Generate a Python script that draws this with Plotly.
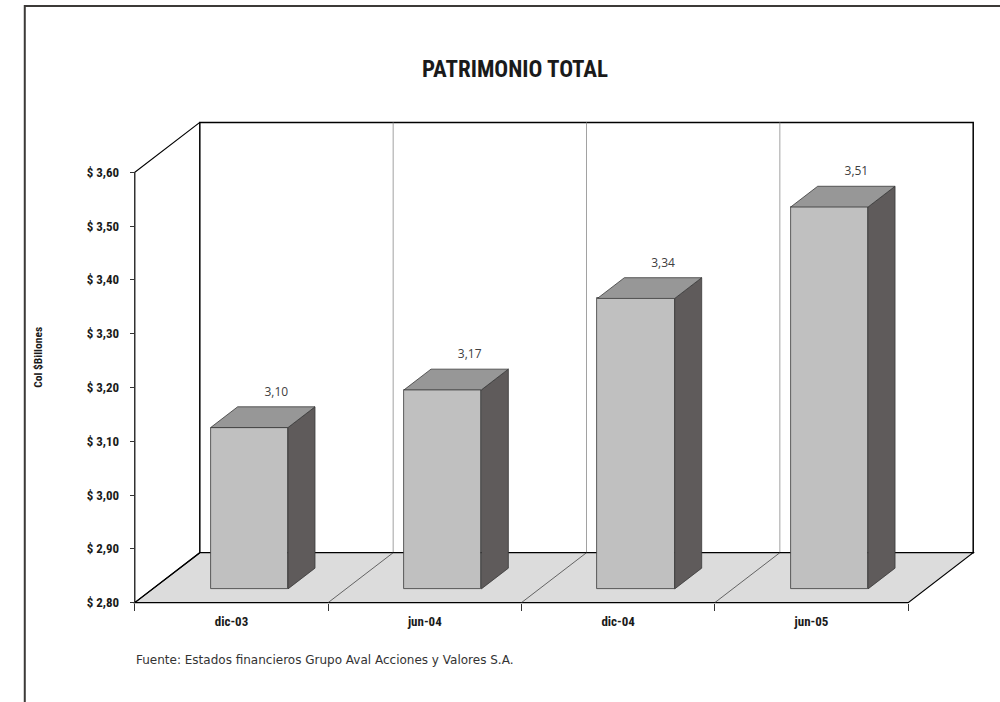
import plotly.graph_objects as go

# ---- data -------------------------------------------------------------
categories = ["dic-03", "jun-04", "dic-04", "jun-05"]
values = [3.10, 3.17, 3.34, 3.51]
value_labels = ["3,10", "3,17", "3,34", "3,51"]
y_ticks = [2.80, 2.90, 3.00, 3.10, 3.20, 3.30, 3.40, 3.50, 3.60]
y_tick_labels = ["$ 2,80", "$ 2,90", "$ 3,00", "$ 3,10", "$ 3,20",
                 "$ 3,30", "$ 3,40", "$ 3,50", "$ 3,60"]

# ---- geometry of the pseudo-3D box ------------------------------------
W, H = 1000, 702
X0_PX, Y0_PX = 135, 603          # front-plane origin (x=0, y=2.80)
SX, SY = 193.3, 538.7            # pixels per category / per value unit
DX, DY = 65 / SX, 50 / SY        # depth offset of the back wall
Y_MIN, Y_MAX = y_ticks[0], y_ticks[-1]
N = len(categories)
PAD_X, PAD_Y = 0.03, 0.01

x_range = [-PAD_X, N + DX + PAD_X]
y_range = [Y_MIN - PAD_Y, Y_MAX + DY + PAD_Y]
m_l = X0_PX - PAD_X * SX
plot_w = (x_range[1] - x_range[0]) * SX
m_r = W - m_l - plot_w
m_b = H - (Y0_PX + PAD_Y * SY)
plot_h = (y_range[1] - y_range[0]) * SY
m_t = H - m_b - plot_h


def paper_x(px):
    return (px - m_l) / plot_w


def paper_y(py):
    return (H - m_b - py) / plot_h


# bar footprint inside each category slot
BW = 0.40
D0, D1 = 0.275, 0.69

COND = "Liberation Sans Narrow, Roboto Condensed, Arial Narrow, sans-serif"
ROUND = "Open Sans, Lato, sans-serif"
WIDE = "DejaVu Sans, Open Sans, sans-serif"
EDGE = "#3a3a3a"

fig = go.Figure()

# side and top faces of each bar
top_x, top_y, side_x, side_y = [], [], [], []
for i, v in enumerate(values):
    xl = i + 0.5 - BW / 2
    xr = i + 0.5 + BW / 2
    top_x += [xl + D0 * DX, xr + D0 * DX, xr + D1 * DX, xl + D1 * DX, xl + D0 * DX, None]
    top_y += [v + D0 * DY, v + D0 * DY, v + D1 * DY, v + D1 * DY, v + D0 * DY, None]
    side_x += [xr + D0 * DX, xr + D1 * DX, xr + D1 * DX, xr + D0 * DX, xr + D0 * DX, None]
    side_y += [Y_MIN + D0 * DY, Y_MIN + D1 * DY, v + D1 * DY, v + D0 * DY, Y_MIN + D0 * DY, None]

fig.add_trace(go.Scatter(x=side_x, y=side_y, mode="lines", fill="toself",
                         fillcolor="#5f5b5b", line=dict(color=EDGE, width=0.8),
                         hoverinfo="skip", showlegend=False))
fig.add_trace(go.Scatter(x=top_x, y=top_y, mode="lines", fill="toself",
                         fillcolor="#979797", line=dict(color=EDGE, width=0.8),
                         hoverinfo="skip", showlegend=False))

# front faces
fig.add_trace(go.Bar(
    x=[i + 0.5 + D0 * DX for i in range(N)],
    y=[v - Y_MIN for v in values],
    base=[Y_MIN + D0 * DY] * N,
    width=BW,
    marker=dict(color="#c0c0c0", line=dict(color=EDGE, width=0.8)),
    hoverinfo="skip", showlegend=False,
))

# value labels above each bar
fig.add_trace(go.Scatter(
    x=[i + 0.5 + D1 * DX for i in range(N)],
    y=[v + D1 * DY + 14 / SY for v in values],
    mode="text", text=value_labels, textposition="middle center",
    textfont=dict(family=ROUND, size=12, color="#404040"),
    hoverinfo="skip", showlegend=False,
))

# ---- walls and floor --------------------------------------------------
shapes = []
# back wall
shapes.append(dict(type="rect", xref="x", yref="y", layer="below",
                   x0=DX, x1=N + DX, y0=Y_MIN + DY, y1=Y_MAX + DY,
                   fillcolor="white", line=dict(color="black", width=1.5)))
# back-wall dividers between categories
for k in range(1, N):
    shapes.append(dict(type="line", xref="x", yref="y", layer="below",
                       x0=k + DX, x1=k + DX, y0=Y_MIN + DY, y1=Y_MAX + DY,
                       line=dict(color="#8a8a8a", width=0.8)))
# floor
shapes.append(dict(type="path", xref="x", yref="y", layer="below",
                   path=f"M 0,{Y_MIN} L {N},{Y_MIN} L {N + DX},{Y_MIN + DY} "
                        f"L {DX},{Y_MIN + DY} Z",
                   fillcolor="#dcdcdc", line=dict(color="black", width=1.2)))
# floor dividers
for k in range(1, N):
    shapes.append(dict(type="line", xref="x", yref="y", layer="below",
                       x0=k, x1=k + DX, y0=Y_MIN, y1=Y_MIN + DY,
                       line=dict(color="#444444", width=0.8)))
# left wall edges
shapes.append(dict(type="path", xref="x", yref="y", layer="below",
                   path=f"M {DX},{Y_MIN + DY} L 0,{Y_MIN} L 0,{Y_MAX} "
                        f"L {DX},{Y_MAX + DY}",
                   line=dict(color="black", width=1.2)))
# outer frame
shapes.append(dict(type="rect", xref="paper", yref="paper", layer="below",
                   x0=paper_x(25), x1=paper_x(1010), y0=paper_y(5.5), y1=paper_y(712),
                   line=dict(color="#3c3a38", width=2)))

annotations = [
    dict(text="<b>Col $Billones</b>", xref="paper", yref="paper",
         x=paper_x(38), y=paper_y(357), textangle=-90, showarrow=False,
         xanchor="center", yanchor="middle",
         font=dict(family=COND, size=11.5, color="#1a1a1a")),
    dict(text="Fuente: Estados financieros Grupo Aval Acciones y Valores S.A.",
         xref="paper", yref="paper", x=paper_x(134), y=paper_y(660),
         xanchor="left", yanchor="middle", showarrow=False,
         font=dict(family=WIDE, size=12, color="#333333")),
]

fig.update_layout(
    width=W, height=H,
    margin=dict(l=m_l, r=m_r, t=m_t, b=m_b, pad=0),
    paper_bgcolor="white", plot_bgcolor="white",
    title=dict(text="<b>PATRIMONIO TOTAL</b>", x=515 / W, y=1 - 69 / H,
               xanchor="center", yanchor="middle",
               font=dict(family=COND, size=23, color="#1a1a1a")),
    shapes=shapes, annotations=annotations,
    bargap=0, showlegend=False,
    xaxis=dict(range=x_range, showgrid=False, zeroline=False, showline=False,
               tickmode="array", tickvals=list(range(N + 1)), ticks="outside",
               ticklen=7, tickwidth=1, tickcolor="#333333",
               showticklabels=False, anchor="free",
               position=PAD_Y * SY / plot_h, fixedrange=True),
    xaxis2=dict(range=x_range, overlaying="x", showgrid=False, zeroline=False,
                showline=False, tickmode="array",
                tickvals=[i + 0.5 for i in range(N)], ticktext=categories,
                ticks="", anchor="free", position=PAD_Y * SY / plot_h,
                side="bottom", ticklabelstandoff=9,
                tickfont=dict(family=COND, size=13, color="#1a1a1a",
                              weight="bold")),
    yaxis=dict(range=y_range, showgrid=False, zeroline=False, showline=False,
               tickmode="array", tickvals=y_ticks, ticktext=y_tick_labels,
               ticks="outside", ticklen=5, tickwidth=1, tickcolor="#333333",
               anchor="free", position=PAD_X * SX / plot_w,
               ticklabelstandoff=8,
               tickfont=dict(family=COND, size=13, color="#1a1a1a",
                             weight="bold")),
)

# tie the label axis to the trace layer so it renders
fig.add_trace(go.Scatter(x=[None], y=[None], xaxis="x2", yaxis="y",
                         showlegend=False, hoverinfo="skip"))

fig.write_html("out.html")
